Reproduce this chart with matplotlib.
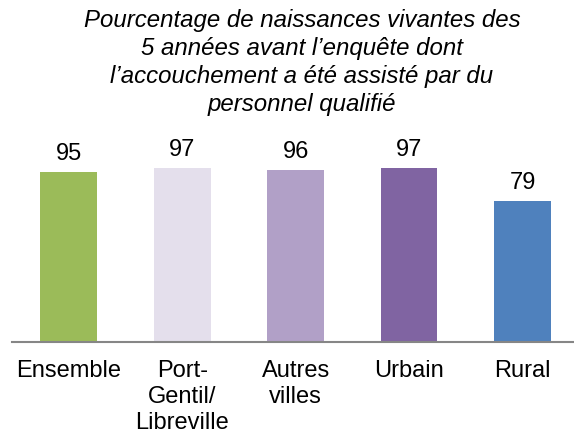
import matplotlib.pyplot as plt

categories = ["Ensemble", "Port-\nGentil/\nLibreville", "Autres\nvilles", "Urbain", "Rural"]
values = [95, 97, 96, 97, 79]
colors = ["#9BBB59", "#E4DFEC", "#B1A0C7", "#8064A2", "#4F81BD"]

title = ("Pourcentage de naissances vivantes des\n"
         "5 années avant l\u2019enquête dont\n"
         "l\u2019accouchement a été assisté par du\n"
         "personnel qualifié")

plt.rcParams["font.family"] = ["Liberation Sans", "DejaVu Sans"]

fig = plt.figure(figsize=(5.74, 4.34), dpi=100)
ax = fig.add_axes([12 / 574, 92 / 434, 562 / 574, 178.9 / 434])

x = range(len(categories))
ax.bar(x, values, width=0.5, color=colors)
for xi, v in zip(x, values):
    ax.text(xi, v + 4, f"{v}", ha="center", va="bottom", fontsize=17)

ax.set_xlim(-0.5, 4.454)
ax.set_ylim(0, 100)
ax.set_xticks(list(x))
ax.set_xticklabels(categories, fontsize=17, linespacing=1.24)
ax.tick_params(axis="x", length=0, pad=13)
ax.set_yticks([])
for s in ["top", "right", "left"]:
    ax.spines[s].set_visible(False)
ax.spines["bottom"].set_color("#868686")
ax.spines["bottom"].set_linewidth(1.5)

fig.text(302 / 574, 1 - 9 / 434, title, ha="center", va="top", fontsize=17.3,
         style="italic", linespacing=1.28)

fig.savefig("out.png", dpi=100)
